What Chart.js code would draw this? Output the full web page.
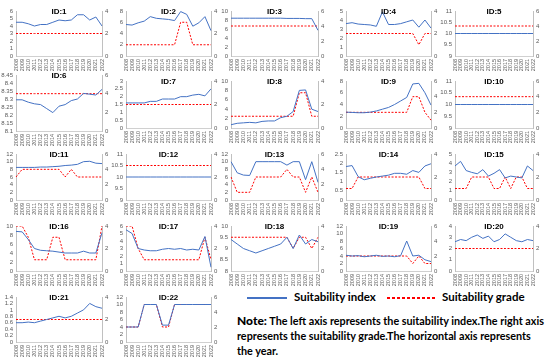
<!DOCTYPE html>
<html>
<head>
<meta charset="utf-8">
<title>Suitability index and grade by ID</title>
<script src="https://cdn.jsdelivr.net/npm/chart.js"></script>
<style>
  body { margin: 0; width: 550px; height: 361px; background: #fff; position: relative; overflow: hidden; }
  canvas.panel { position: absolute; }
  .key { position: absolute; font-family: Lato, "Liberation Sans", sans-serif; font-weight: bold; font-size: 11.5px; color: #000; white-space: nowrap; }
  .swatch { position: absolute; height: 1.5px; }
  #note { position: absolute; left: 237px; top: 313px; font-family: Lato, "Liberation Sans", sans-serif; font-weight: bold; font-size: 10.8px; line-height: 15px; color: #000; white-space: nowrap; }
  #note b { font-size: 12px; }
</style>
</head>
<body>

<div class="swatch" style="left:247px; top:297px; width:40px; background:#4472C4;"></div>
<div class="key" style="left:294px; top:290px;">Suitability index</div>
<div class="swatch" style="left:387px; top:297px; width:48px; background:repeating-linear-gradient(90deg, #FF0000 0 3px, transparent 3px 5px);"></div>
<div class="key" style="left:442px; top:290px;">Suitability grade</div>
<div id="note"><b>Note:</b> The left axis represents the suitability index.The right axis<br>represents the suitability grade.The horizontal axis represents<br>the year.</div>

<script>
const years = ['2008','2009','2010','2011','2012','2013','2014','2015','2016','2017','2018','2019','2020','2021','2022'];

// suitability index (left axis) and suitability grade (right axis) per ID
const index1 = [4.5,4.5,4.3,4.0,4.2,4.2,4.5,4.8,4.7,4.8,5.5,5.5,4.8,5.2,4.0];
const grade1 = [2,2,2,2,2,2,2,2,2,2,2,2,2,2,2];
const index2 = [5.6,5.5,5.9,6.2,7.0,6.7,6.6,6.5,6.3,7.9,7.4,5.3,5.9,7.0,4.5];
const grade2 = [1,1,1,1,1,1,1,1,1,3,3,1,1,1,1];
const index3 = [8.4,8.4,8.4,8.4,8.4,8.4,8.4,8.4,8.4,8.35,8.35,8.35,8.3,8.3,5.7];
const grade3 = [4,4,4,4,4,4,4,4,4,4,4,4,4,4,4];
const index4 = [3.6,3.7,3.55,3.5,3.45,3.3,4.9,3.5,3.5,3.6,3.8,4.0,3.2,4.0,3.1];
const grade4 = [2,2,2,2,2,2,2,2,2,2,2,2,1,2,2];
const index5 = [10,10,10,10,10,10,10,10,10,10,10,10,10,10,10];
const grade5 = [4,4,4,4,4,4,4,4,4,4,4,4,4,4,4];
const index6 = [8.295,8.295,8.28,8.27,8.265,8.24,8.215,8.255,8.265,8.29,8.3,8.335,8.33,8.325,8.36];
const grade6 = [4,4,4,4,4,4,4,4,4,4,4,4,4,4,4];
const index7 = [1.6,1.6,1.6,1.6,1.7,1.7,1.85,1.85,1.85,2.0,2.0,2.1,2.15,2.05,2.5];
const grade7 = [2,2,2,2,2,2,2,2,2,2,2,2,2,2,2];
const index8 = [0.7,1.0,1.1,1.2,1.1,1.4,1.5,1.5,2.2,2.5,3.5,8.0,8.1,4.0,3.5];
const grade8 = [1,1,1,1,1,1,1,1,1,1,1,3,3,1,1];
const index9 = [2.7,2.65,2.6,2.6,2.7,2.9,3.2,3.5,4.0,4.6,5.2,7.5,7.6,6.0,3.9];
const grade9 = [2,2,2,2,2,2,2,2,2,2,2,4,4,2,1];
const index10 = [10,10,10,10,10,10,10,10,10,10,10,10,10,10,10];
const grade10 = [4,4,4,4,4,4,4,4,4,4,4,4,4,4,4];
const index11 = [8.5,8.5,8.5,8.5,8.6,8.6,8.7,8.8,9.0,9.1,9.3,10.0,10.1,9.6,9.5];
const grade11 = [3,4,4,4,4,4,4,4,3,4,3,3,3,3,3];
const index12 = [10,10,10,10,10,10,10,10,10,10,10,10,10,10,10];
const grade12 = [3,3,3,3,3,3,3,3,3,3,3,3,3,3,3];
const index13 = [10,7.1,6.5,6.4,10,10,10,10,10,9.1,10,10,5.3,10,4.6];
const grade13 = [3,1,1,1,3,3,3,3,3,4,3,3,1,3,1];
const index14 = [1.82,1.87,1.27,1.1,1.18,1.25,1.3,1.35,1.45,1.45,1.4,1.6,1.5,1.85,1.97];
const grade14 = [1,1,2,2,2,2,2,2,2,2,2,2,2,1,1];
const index15 = [3.7,4.2,3.2,3.0,2.85,3.3,2.6,2.9,3.3,2.4,2.6,2.5,2.4,3.7,3.2];
const grade15 = [1,1,1,2,2,2,2,1,1,2,1,2,2,1,1];
const index16 = [8.8,8.7,7.0,5.0,4.6,4.5,4.4,4.2,4.0,4.0,4.0,4.4,4.0,4.0,8.5];
const grade16 = [4,4,3,1,1,1,3,3,1,1,1,1,1,1,4];
const index17 = [5.5,5.0,3.0,2.8,2.7,2.7,2.9,3.0,2.9,3.0,2.8,2.9,2.8,4.6,0.5];
const grade17 = [4,4,2,1,1,1,1,1,1,1,1,1,1,3,1];
const index18 = [9.4,9.2,9.0,8.9,8.8,8.9,9.0,9.1,9.2,9.5,9.0,9.6,9.2,9.4,9.3];
const grade18 = [3,3,3,3,3,3,3,3,3,3,2,3,3,2,3];
const index19 = [4.2,4.0,4.1,3.8,4.0,4.2,3.9,4.0,3.8,4.1,8.0,4.0,4.2,3.0,2.5];
const grade19 = [2,2,2,2,2,2,2,2,2,2,2,1,2,1,1];
const index20 = [2.6,2.8,2.7,3.0,3.2,2.9,3.1,2.6,2.8,3.3,3.0,2.7,2.6,2.8,2.7];
const grade20 = [2,2,2,2,2,2,2,2,2,2,2,2,2,2,2];
const index21 = [0.6,0.6,0.62,0.6,0.65,0.7,0.75,0.8,0.75,0.8,0.9,1.0,1.2,1.1,1.05];
const grade21 = [2,2,2,2,2,2,2,2,2,2,2,2,2,2,2];
const index22 = [4.0,4.0,4.0,10,10,10,4.5,4.5,10,10,10,10,10,10,10];
const grade22 = [2,2,2,5,5,5,2,2,5,5,5,5,5,5,5];

// axis ranges [min, max, step] for left (index) and right (grade) axes
const leftAxes = [[0,6,1],[0,8,2],[0,10,2],[0,5,1],[9,11,0.5],
                  [8.1,8.45,0.05],[0,3,0.5],[0,10,2],[0,8,2],[9,11,0.5],
                  [0,12,2],[9,11,0.5],[0,12,2],[0,2.5,0.5],[0,5,1],
                  [0,10,2],[0,6,1],[8,10,0.5],[0,12,2],[0,4,1],
                  [0,1.4,0.2],[0,12,2]];
const rightAxes = [[0,4,2],[0,4,2],[0,6,2],[0,4,2],[0,6,2],
                   [0,6,2],[0,4,2],[0,4,2],[0,6,2],[0,6,2],
                   [0,6,2],[0,4,2],[0,6,2],[0,4,2],[0,4,2],
                   [0,4,2],[0,4,2],[0,4,2],[0,6,2],[0,4,2],
                   [0,4,2],[0,6,2]];
const indexSeries = [index1,index2,index3,index4,index5,index6,index7,index8,index9,index10,index11,
                     index12,index13,index14,index15,index16,index17,index18,index19,index20,index21,index22];
const gradeSeries = [grade1,grade2,grade3,grade4,grade5,grade6,grade7,grade8,grade9,grade10,grade11,
                     grade12,grade13,grade14,grade15,grade16,grade17,grade18,grade19,grade20,grade21,grade22];

// plot area edges per column / row of the grid
const colL = [16, 126, 231, 346, 455];
const colR = [102, 211, 318, 431, 533];
const rowT = [11, 81, 154, 226, 297];
const rowB = [56, 128, 200, 271, 342];
const LW = 20, RW = 12, TP = 6, BH = 19;

const titlePlugin = {
  id: 'panelTitle',
  afterDraw(chart, args, opts) {
    const a = chart.chartArea, ctx = chart.ctx;
    ctx.save();
    ctx.font = 'bold 8px "Liberation Sans", Arial, sans-serif';
    ctx.fillStyle = '#000';
    ctx.textAlign = 'center';
    ctx.textBaseline = 'middle';
    ctx.fillText(opts.text, (a.left + a.right) / 2, a.top + 1);
    ctx.restore();
  }
};

const tickFont = { family: '"Liberation Sans", Arial, sans-serif', size: 6, lineHeight: 1 };
const trim = v => String(+Number(v).toFixed(2));

indexSeries.forEach((idx, i) => {
  const col = i % 5, row = Math.floor(i / 5);
  let t = rowT[row], b = rowB[row];
  if (i === 5) { t = 75; b = 131; }
  const l = colL[col], r = colR[col];
  const cv = document.createElement('canvas');
  cv.className = 'panel';
  cv.width = r - l + LW + RW;
  cv.height = b - t + TP + BH;
  cv.style.left = (l - LW) + 'px';
  cv.style.top = (t - TP) + 'px';
  document.body.appendChild(cv);

  const la = leftAxes[i], ra = rightAxes[i];
  new Chart(cv.getContext('2d'), {
    type: 'line',
    data: {
      labels: years,
      datasets: [
        { label: 'Suitability index', data: idx, yAxisID: 'y', borderColor: '#4472C4',
          borderWidth: 1, pointRadius: 0, tension: 0, fill: false },
        { label: 'Suitability grade', data: gradeSeries[i], yAxisID: 'y1', borderColor: '#FF0000',
          borderWidth: 1, borderDash: [2, 1.5], pointRadius: 0, tension: 0, fill: false }
      ]
    },
    options: {
      responsive: false,
      animation: false,
      devicePixelRatio: 1,
      layout: { padding: { top: TP, left: 0, right: 0, bottom: 0 } },
      plugins: { legend: { display: false }, tooltip: { enabled: false }, panelTitle: { text: 'ID:' + (i + 1) } },
      scales: {
        x: {
          grid: { display: false, drawTicks: false },
          border: { display: true, color: '#d0d0d0' },
          ticks: { autoSkip: false, minRotation: 90, maxRotation: 90, font: { family: tickFont.family, size: 5.5 }, color: '#595959', padding: 3 },
          afterFit: s => { s.height = BH; }
        },
        y: {
          position: 'left', min: la[0], max: la[1],
          grid: { display: false, drawTicks: false },
          border: { display: true, color: '#c0c0c0' },
          ticks: { stepSize: la[2], autoSkip: false, maxTicksLimit: 20, font: tickFont, color: '#595959', padding: 3, callback: trim },
          afterFit: s => { s.width = LW; }
        },
        y1: {
          position: 'right', min: ra[0], max: ra[1],
          grid: { display: false, drawTicks: false },
          border: { display: true, color: '#c0c0c0' },
          ticks: { stepSize: ra[2], autoSkip: false, font: tickFont, color: '#595959', padding: 3, callback: trim },
          afterFit: s => { s.width = RW; }
        }
      }
    },
    plugins: [titlePlugin]
  });
});
</script>
</body>
</html>
